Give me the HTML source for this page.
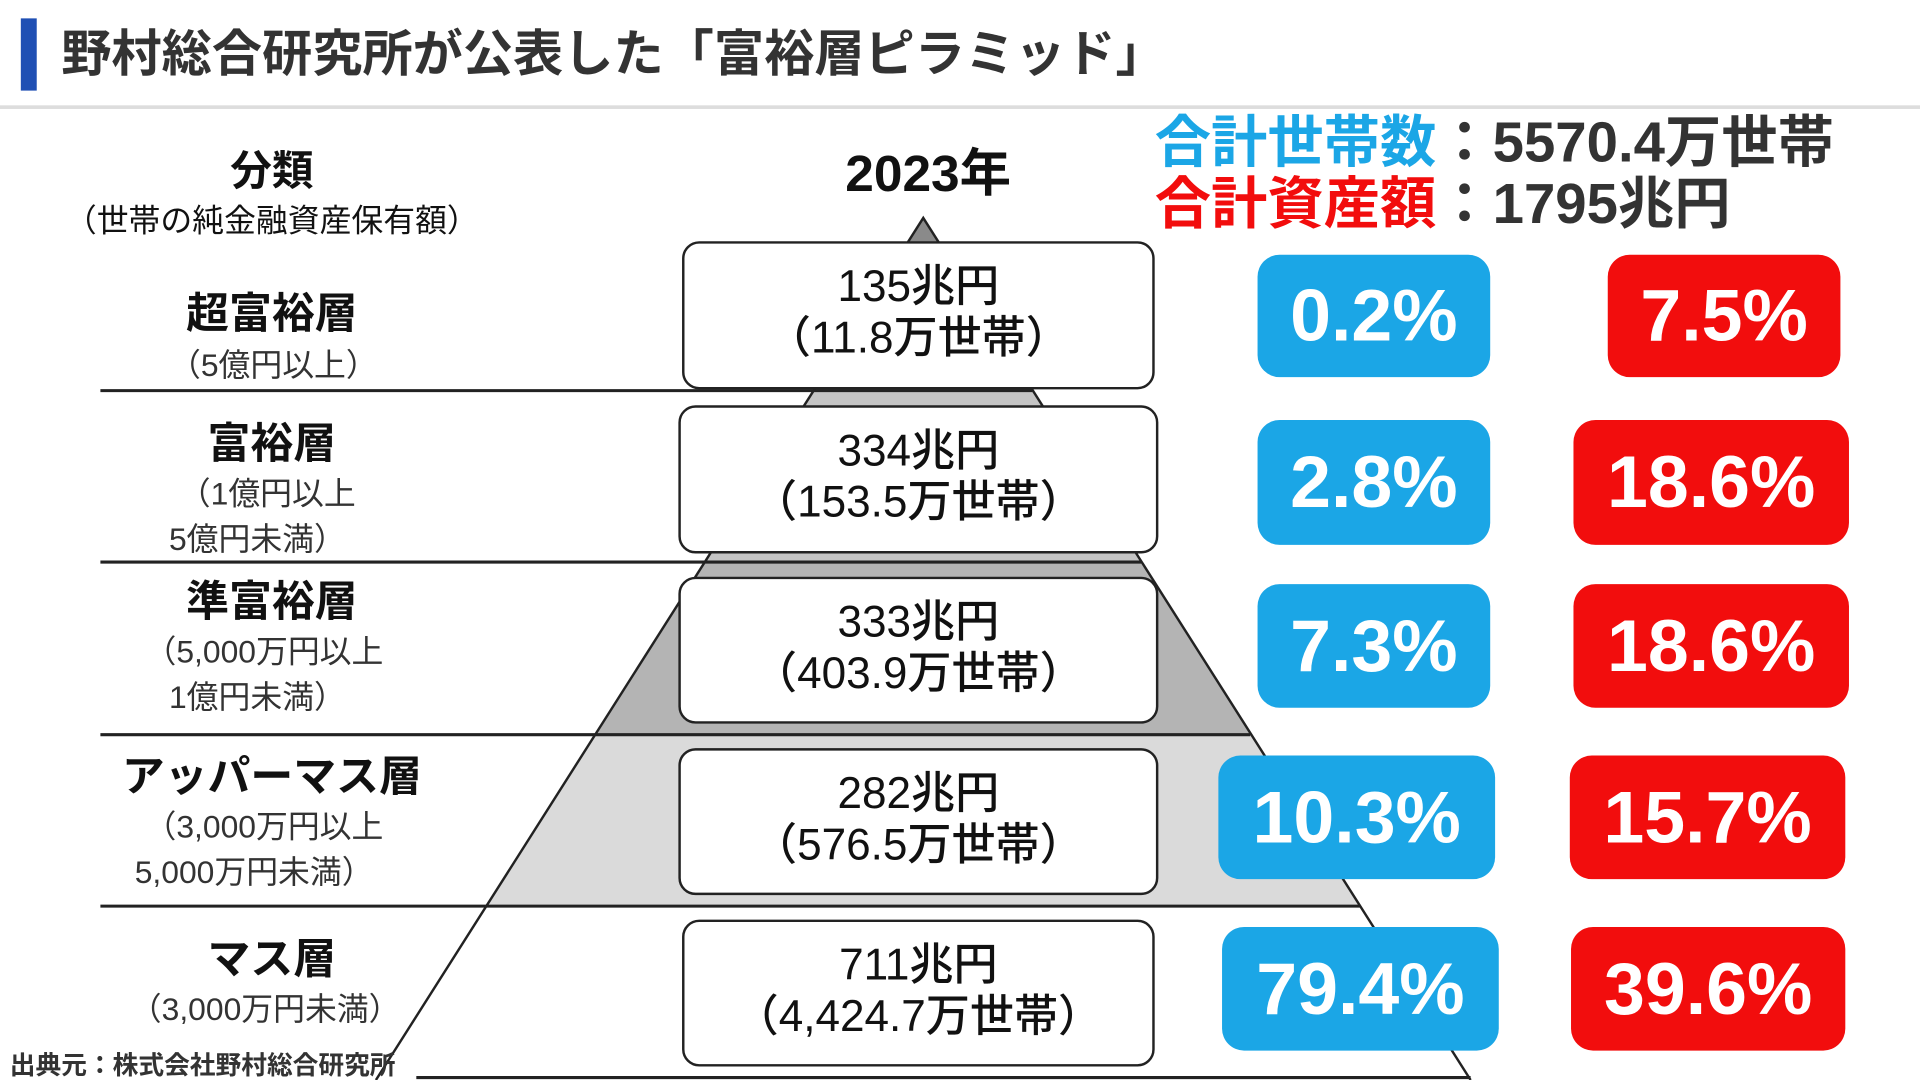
<!DOCTYPE html>
<html><head><meta charset="utf-8"><style>
html,body{margin:0;padding:0;background:#fff;width:1920px;height:1080px;overflow:hidden}
#s{position:absolute;left:0;top:0;width:1568px;height:882px;transform:scale(1.22449);transform-origin:0 0;font-family:"Liberation Sans","Noto Sans CJK JP",sans-serif;color:#111}
.a{position:absolute;white-space:nowrap}
.c{text-align:center}
.box{position:absolute;background:#fff;border:2px solid #222;border-radius:14px;box-sizing:border-box;text-align:center;font-size:36px;line-height:42px;padding-top:14px;font-weight:500}
.p{position:absolute;border-radius:18px;color:#fff;font-weight:bold;font-size:60px;text-align:center;box-sizing:border-box}
.b{background:#1ba6e6}.r{background:#f20d0d}
.cat{font-size:35px;font-weight:bold;width:300px;text-align:center;left:72px}
.sub{font-size:26px;color:#333}
</style></head><body><div id="s">
<div class="a" style="left:17px;top:15px;width:13px;height:59px;background:#1f4fb4"></div>
<div class="a" style="left:50px;top:15px;font-size:41px;font-weight:bold;color:#333;line-height:58px">野村総合研究所が公表した「富裕層ピラミッド」</div>
<div class="a" style="left:0;top:86px;width:1568px;height:3px;background:#ddd"></div>

<svg class="a" style="left:0;top:0" width="1568" height="882">
<polygon points="754,178 843,319 665,319" fill="#8a8a8a"/>
<polygon points="665,319 843,319 932,459 576,459" fill="#c4c4c4"/>
<polygon points="576,459 932,459 1021,600 487,600" fill="#b4b4b4"/>
<polygon points="487,600 1021,600 1111,740 397,740" fill="#dadada"/>
<polyline points="307,882 754,178 1201,882" fill="none" stroke="#222" stroke-width="2"/>
<g stroke="#222" stroke-width="2.5">
<line x1="82" y1="319" x2="843" y2="319"/>
<line x1="82" y1="459" x2="932" y2="459"/>
<line x1="82" y1="600" x2="1021" y2="600"/>
<line x1="82" y1="740" x2="1111" y2="740"/>
<line x1="340" y1="880" x2="1201" y2="880"/>
</g>
</svg>

<div class="a c" style="left:72px;width:300px;top:112px;font-size:34px;font-weight:bold">分類</div>
<div class="a c" style="left:22px;width:400px;top:160px;font-size:26px">（世帯の純金融資産保有額）</div>
<div class="a c" style="left:648px;width:220px;top:108px;font-size:42px;font-weight:bold">2023年</div>
<div class="a" style="left:943px;top:88px;font-size:46px;font-weight:bold;line-height:56px"><span style="color:#1ba6e6">合計世帯数</span><span style="color:#333">：5570.4万世帯</span></div>
<div class="a" style="left:943px;top:138px;font-size:46px;font-weight:bold;line-height:56px"><span style="color:#f20d0d">合計資産額</span><span style="color:#333">：1795兆円</span></div>

<div class="a cat" style="top:228px">超富裕層</div>
<div class="a sub" style="left:138px;top:278px">（5億円以上）</div>
<div class="a cat" style="top:334px">富裕層</div>
<div class="a sub" style="left:146px;top:383px">（1億円以上</div>
<div class="a sub" style="left:138px;top:420px">5億円未満）</div>
<div class="a cat" style="top:463px">準富裕層</div>
<div class="a sub" style="left:118px;top:512px">（5,000万円以上</div>
<div class="a sub" style="left:138px;top:549px">1億円未満）</div>
<div class="a cat" style="top:606px">アッパーマス層</div>
<div class="a sub" style="left:118px;top:655px">（3,000万円以上</div>
<div class="a sub" style="left:110px;top:692px">5,000万円未満）</div>
<div class="a cat" style="top:755px">マス層</div>
<div class="a sub" style="left:106px;top:804px">（3,000万円未満）</div>

<div class="box" style="left:557px;top:197px;width:386px;height:121px">135兆円<br>（11.8万世帯）</div>
<div class="box" style="left:554px;top:331px;width:392px;height:121px">334兆円<br>（153.5万世帯）</div>
<div class="box" style="left:554px;top:471px;width:392px;height:120px">333兆円<br>（403.9万世帯）</div>
<div class="box" style="left:554px;top:611px;width:392px;height:120px">282兆円<br>（576.5万世帯）</div>
<div class="box" style="left:557px;top:751px;width:386px;height:120px">711兆円<br>（4,424.7万世帯）</div>

<div class="p b" style="left:1027px;top:208px;width:190px;height:100px;line-height:100px">0.2%</div>
<div class="p b" style="left:1027px;top:343px;width:190px;height:102px;line-height:102px">2.8%</div>
<div class="p b" style="left:1027px;top:477px;width:190px;height:101px;line-height:101px">7.3%</div>
<div class="p b" style="left:995px;top:617px;width:226px;height:101px;line-height:101px">10.3%</div>
<div class="p b" style="left:998px;top:757px;width:226px;height:101px;line-height:101px">79.4%</div>
<div class="p r" style="left:1313px;top:208px;width:190px;height:100px;line-height:100px">7.5%</div>
<div class="p r" style="left:1285px;top:343px;width:225px;height:102px;line-height:102px">18.6%</div>
<div class="p r" style="left:1285px;top:477px;width:225px;height:101px;line-height:101px">18.6%</div>
<div class="p r" style="left:1282px;top:617px;width:225px;height:101px;line-height:101px">15.7%</div>
<div class="p r" style="left:1283px;top:757px;width:224px;height:101px;line-height:101px">39.6%</div>

<div class="a" style="left:8px;top:854px;font-size:21px;font-weight:bold;color:#333">出典元：株式会社野村総合研究所</div>
</div></body></html>
